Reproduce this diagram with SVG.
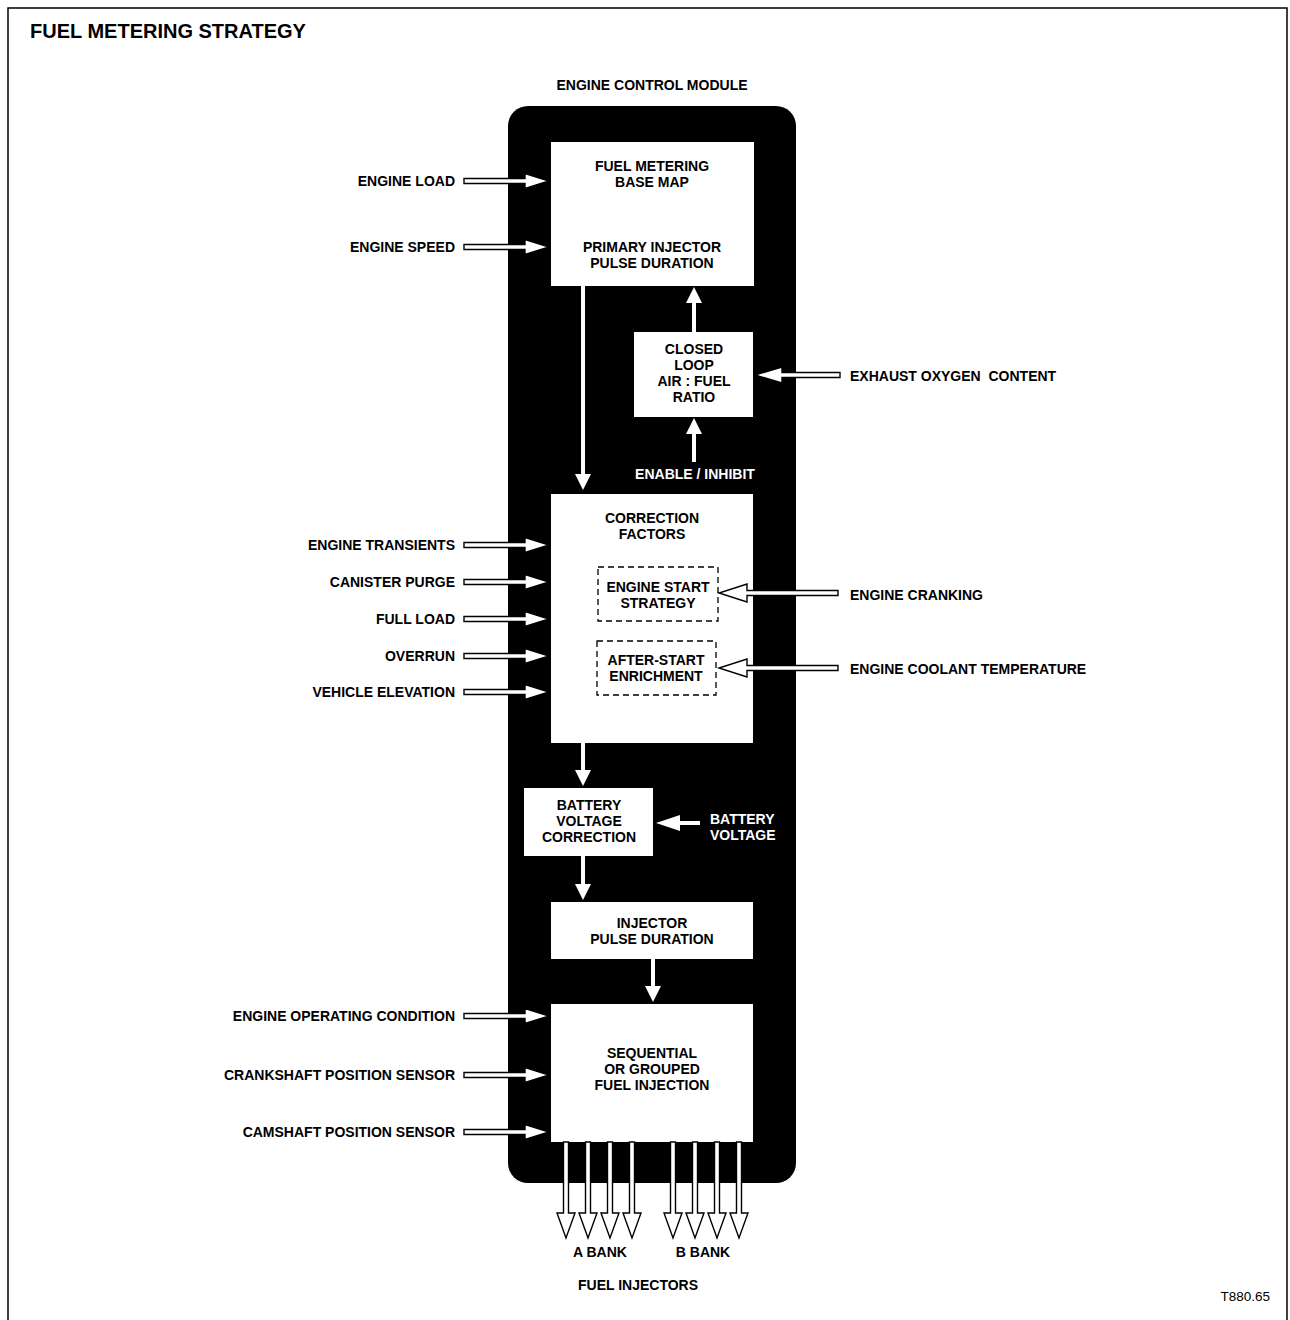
<svg xmlns="http://www.w3.org/2000/svg" xmlns:xlink="http://www.w3.org/1999/xlink" width="1290" height="1320" viewBox="0 0 1290 1320">
<style>
text{font-family:"Liberation Sans",Arial,sans-serif;font-weight:bold;font-size:14px;fill:#000}
.c{text-anchor:middle}
.r{text-anchor:end}
.w{fill:#fff}
.box{fill:#fff;stroke:none}
.dash{fill:#fff;stroke:#000;stroke-width:1.3;stroke-dasharray:6,4}
.hol{fill:#fff;stroke:#000;stroke-width:1.4}
.sol{fill:#fff;stroke:none}
</style>
<defs>
<path id="inL" d="M464,-2.5 H525 V-7.5 L549,0 L525,7.5 V2.5 H464 Z"/>
<path id="inR" d="M838,-2.5 H747 V-9 L719,0 L747,9 V2.5 H838 Z"/>
<path id="inj" d="M-2.5,1142 V1213 H-9 L0,1238 L9,1213 H2.5 V1142 Z"/>
</defs>
<rect x="8" y="8" width="1279" height="1320" fill="#fff" stroke="#000" stroke-width="1.5"/>
<text x="30" y="38" style="font-size:20px">FUEL METERING STRATEGY</text>
<text x="1270" y="1301" class="r" style="font-weight:normal;font-size:13.5px">T880.65</text>

<g id="ecm">
<rect x="508" y="106" width="288" height="1077" rx="20" fill="#000"/>
<text x="652" y="90" class="c">ENGINE CONTROL MODULE</text>
</g>

<g id="base-map">
<rect class="box" x="551" y="142" width="203" height="144"/>
<text x="652" y="171" class="c">FUEL METERING</text>
<text x="652" y="187" class="c">BASE MAP</text>
<text x="652" y="252" class="c">PRIMARY INJECTOR</text>
<text x="652" y="268" class="c">PULSE DURATION</text>
</g>

<g id="closed-loop">
<rect class="box" x="634" y="332" width="119" height="85"/>
<text x="694" y="354" class="c">CLOSED</text>
<text x="694" y="370" class="c">LOOP</text>
<text x="694" y="386" class="c">AIR : FUEL</text>
<text x="694" y="402" class="c">RATIO</text>
</g>

<g id="correction">
<rect class="box" x="551" y="494" width="202" height="249"/>
<text x="652" y="523" class="c">CORRECTION</text>
<text x="652" y="539" class="c">FACTORS</text>
</g>

<g id="engine-start">
<rect class="dash" x="598" y="567" width="120" height="54"/>
<text x="658" y="592" class="c">ENGINE START</text>
<text x="658" y="608" class="c">STRATEGY</text>
</g>

<g id="after-start">
<rect class="dash" x="597" y="641" width="119" height="54"/>
<text x="656" y="665" class="c">AFTER-START</text>
<text x="656" y="681" class="c">ENRICHMENT</text>
</g>

<g id="battery-correction">
<rect class="box" x="524" y="788" width="129" height="68"/>
<text x="589" y="810" class="c">BATTERY</text>
<text x="589" y="826" class="c">VOLTAGE</text>
<text x="589" y="842" class="c">CORRECTION</text>
</g>

<g id="injector-pulse">
<rect class="box" x="551" y="902" width="202" height="57"/>
<text x="652" y="928" class="c">INJECTOR</text>
<text x="652" y="944" class="c">PULSE DURATION</text>
</g>

<g id="sequential">
<rect class="box" x="551" y="1004" width="202" height="138"/>
<text x="652" y="1058" class="c">SEQUENTIAL</text>
<text x="652" y="1074" class="c">OR GROUPED</text>
<text x="652" y="1090" class="c">FUEL INJECTION</text>
</g>

<g id="labels">
<text x="455" y="186" class="r">ENGINE LOAD</text>
<text x="455" y="252" class="r">ENGINE SPEED</text>
<text x="455" y="550" class="r">ENGINE TRANSIENTS</text>
<text x="455" y="587" class="r">CANISTER PURGE</text>
<text x="455" y="624" class="r">FULL LOAD</text>
<text x="455" y="661" class="r">OVERRUN</text>
<text x="455" y="697" class="r">VEHICLE ELEVATION</text>
<text x="455" y="1021" class="r">ENGINE OPERATING CONDITION</text>
<text x="455" y="1080" class="r">CRANKSHAFT POSITION SENSOR</text>
<text x="455" y="1137" class="r">CAMSHAFT POSITION SENSOR</text>
<text x="850" y="381">EXHAUST OXYGEN&#160; CONTENT</text>
<text x="850" y="600">ENGINE CRANKING</text>
<text x="850" y="674">ENGINE COOLANT TEMPERATURE</text>
<text x="695" y="479" class="c w">ENABLE / INHIBIT</text>
<text x="710" y="824" class="w">BATTERY</text>
<text x="710" y="840" class="w">VOLTAGE</text>
<text x="600" y="1257" class="c">A BANK</text>
<text x="703" y="1257" class="c">B BANK</text>
<text x="638" y="1290" class="c">FUEL INJECTORS</text>
</g>

<g id="connectors">
<use xlink:href="#inL" y="181" class="hol"/>
<use xlink:href="#inL" y="247" class="hol"/>
<use xlink:href="#inL" y="545" class="hol"/>
<use xlink:href="#inL" y="582" class="hol"/>
<use xlink:href="#inL" y="619" class="hol"/>
<use xlink:href="#inL" y="656" class="hol"/>
<use xlink:href="#inL" y="692" class="hol"/>
<use xlink:href="#inL" y="1016" class="hol"/>
<use xlink:href="#inL" y="1075" class="hol"/>
<use xlink:href="#inL" y="1132" class="hol"/>
<path class="hol" d="M840,372.5 H782 V367 L755,375 L782,383 V377.5 H840 Z"/>
<use xlink:href="#inR" y="593" class="hol"/>
<use xlink:href="#inR" y="668" class="hol"/>
<path class="sol" d="M581,286 H585 V474 H591 L583,490 L575,474 H581 Z"/>
<path class="sol" d="M692,332 V303 H686 L694,287 L702,303 H696 V332 Z"/>
<path class="sol" d="M692,462 V434 H686 L694,418 L702,434 H696 V462 Z"/>
<path class="sol" d="M581,743 H585 V770 H591 L583,786 L575,770 H581 Z"/>
<path class="sol" d="M581,856 H585 V884 H591 L583,900 L575,884 H581 Z"/>
<path class="sol" d="M651,959 H655 V986 H661 L653,1002 L645,986 H651 Z"/>
<path class="sol" d="M700,821 H680 V815 L656,823 L680,831 V825 H700 Z"/>
<use xlink:href="#inj" x="566" class="hol"/>
<use xlink:href="#inj" x="588" class="hol"/>
<use xlink:href="#inj" x="610" class="hol"/>
<use xlink:href="#inj" x="632" class="hol"/>
<use xlink:href="#inj" x="673" class="hol"/>
<use xlink:href="#inj" x="695" class="hol"/>
<use xlink:href="#inj" x="717" class="hol"/>
<use xlink:href="#inj" x="739" class="hol"/>
</g>
</svg>
